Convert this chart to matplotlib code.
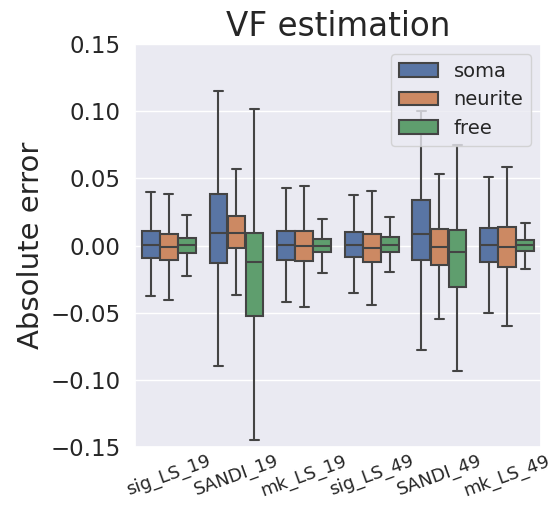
import numpy as np
import matplotlib
matplotlib.use('Agg')
import matplotlib.pyplot as plt
from matplotlib.patches import Patch
import seaborn as sns

# 数据: 每个模型的箱线统计 [下须, Q1, 中位数, Q3, 上须]
models = ['sig_LS_19', 'SANDI_19', 'mk_LS_19', 'sig_LS_49', 'SANDI_49', 'mk_LS_49']
hues = ['soma', 'neurite', 'free']

soma = [
    [-0.0378, -0.0090, 0.0005, 0.0107, 0.0395],
    [-0.0897, -0.0131, 0.0091, 0.0381, 0.1150],
    [-0.0421, -0.0106, 0.0002, 0.0106, 0.0426],
    [-0.0357, -0.0084, 0.0002, 0.0102, 0.0379],
    [-0.0778, -0.0109, 0.0084, 0.0337, 0.1005],
    [-0.0505, -0.0124, 0.0005, 0.0129, 0.0510],
]
neurite = [
    [-0.0405, -0.0110, -0.0013, 0.0082, 0.0383],
    [-0.0366, -0.0015, 0.0091, 0.0218, 0.0570],
    [-0.0458, -0.0119, -0.0007, 0.0106, 0.0446],
    [-0.0443, -0.0124, -0.0015, 0.0089, 0.0409],
    [-0.0547, -0.0143, -0.0010, 0.0124, 0.0530],
    [-0.0602, -0.0161, -0.0010, 0.0141, 0.0587],
]
free = [
    [-0.0226, -0.0055, 0.0005, 0.0057, 0.0226],
    [-0.1446, -0.0525, -0.0121, 0.0094, 0.1020],
    [-0.0203, -0.0052, -0.0002, 0.0050, 0.0200],
    [-0.0200, -0.0045, 0.0007, 0.0060, 0.0213],
    [-0.0936, -0.0307, -0.0045, 0.0114, 0.0745],
    [-0.0173, -0.0042, 0.0005, 0.0042, 0.0171],
]
series = [soma, neurite, free]

sns.set_theme(style='darkgrid')
plt.rcParams['font.family'] = ['DejaVu Sans']

colors = [sns.desaturate(c, 0.75) for c in sns.color_palette('deep')[:3]]
line_color = '#444444'

fig = plt.figure(figsize=(5.53, 5.12), dpi=100)
ax = fig.add_axes([0.244, 0.127, 0.734, 0.787])

n_hue = len(hues)
group_w = 0.8
box_w = group_w / n_hue
x = np.arange(len(models))

for i, (name, data) in enumerate(zip(hues, series)):
    offs = -group_w / 2 + box_w * (i + 0.5)
    stats = []
    for lo, q1, med, q3, hi in data:
        stats.append({'whislo': lo, 'q1': q1, 'med': med, 'q3': q3, 'whishi': hi})
    ax.bxp(stats, positions=x + offs, widths=box_w * 0.98, showfliers=False,
           patch_artist=True, manage_ticks=False,
           boxprops=dict(facecolor=colors[i], edgecolor=line_color, linewidth=1.5),
           medianprops=dict(color=line_color, linewidth=1.5),
           whiskerprops=dict(color=line_color, linewidth=1.5),
           capprops=dict(color=line_color, linewidth=1.5),
           capwidths=box_w * 0.5)

ax.set_xlim(-0.5, len(models) - 0.5)
ax.set_ylim(-0.15, 0.15)
ax.set_yticks([-0.15, -0.10, -0.05, 0.00, 0.05, 0.10, 0.15])
ax.set_yticklabels(['\u22120.15', '\u22120.10', '\u22120.05', '0.00', '0.05', '0.10', '0.15'],
                   fontsize=16.5)
ax.set_xticks(x)
ax.set_xticklabels(models, rotation=20, fontsize=13)
ax.xaxis.grid(False)
ax.tick_params(axis='both', length=0)
ax.tick_params(axis='y', pad=10.5)

ax.set_ylabel('Absolute error', fontsize=21, labelpad=4)
ax.set_title('VF estimation', fontsize=23.5)

handles = [Patch(facecolor=colors[i], edgecolor=line_color, linewidth=1.5, label=h)
           for i, h in enumerate(hues)]
ax.legend(handles=handles, loc='upper right', fontsize=14)

fig.savefig('out.png', dpi=100)
